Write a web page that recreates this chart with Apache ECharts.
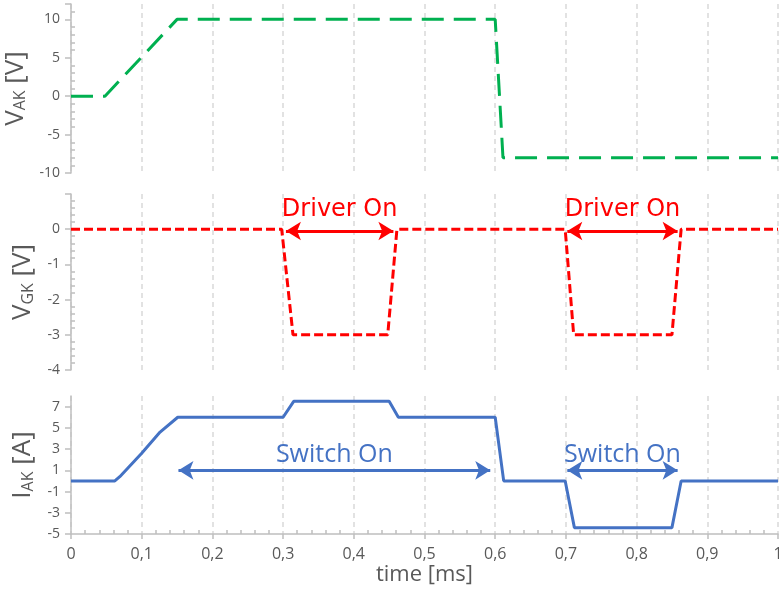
<!DOCTYPE html>
<html>
<head>
<meta charset="utf-8">
<script src="https://cdn.jsdelivr.net/npm/echarts@6/dist/echarts.min.js"></script>
<style>
  html, body { margin: 0; padding: 0; background: #fff; }
  #chart { width: 779px; height: 590px; }
</style>
</head>
<body>
<div id="chart"></div>
<script>
// Time axis in ms
const timeTicks = [0, 0.1, 0.2, 0.3, 0.4, 0.5, 0.6, 0.7, 0.8, 0.9, 1];

// Anode-cathode voltage V_AK [V]
const vakTime = [0, 0.048, 0.15, 0.6, 0.611, 1];
const vakVolt = [0, 0, 10, 10, -8, -8];

// Gate-cathode voltage V_GK [V]
const vgkTime = [0, 0.298, 0.314, 0.448, 0.461, 0.699, 0.711, 0.85, 0.863, 1];
const vgkVolt = [0, 0, -3, -3, 0, 0, -3, -3, 0, 0];

// Anode current I_AK [A]
const iakTime = [0, 0.062, 0.069, 0.1, 0.126, 0.151, 0.3, 0.315, 0.45, 0.463, 0.6, 0.612, 0.699, 0.712, 0.85, 0.863, 1];
const iakAmp  = [0, 0, 0.4, 2.6, 4.6, 6, 6, 7.5, 7.5, 6, 6, 0, 0, -4.4, -4.4, 0, 0];

// Annotated intervals: [start, end] in ms and arrow level
const driverOnSpans = [[0.304, 0.456], [0.702, 0.858]];
const driverOnLevel = -0.05;
const switchOnSpans = [[0.152, 0.593], [0.702, 0.858]];
const switchOnLevel = 1;

const pairs = (xs, ys) => xs.map((x, i) => [x, ys[i]]);
const fmt = v => String(v).replace('.', ',');

const GRAY = '#595959';
const AXIS = '#bfbfbf';
const FONT = '"Open Sans", sans-serif';

function xAxisFor(gridIndex, showLabels) {
  return {
    type: 'value', gridIndex, min: timeTicks[0], max: timeTicks[timeTicks.length - 1], interval: 0.1,
    axisLine: { show: showLabels, onZero: false, lineStyle: { color: AXIS, width: 1.5 } },
    axisTick: { show: showLabels, length: 5, lineStyle: { color: AXIS, width: 1.5 } },
    minorTick: { show: showLabels, splitNumber: 5, length: -4, lineStyle: { color: AXIS, width: 1.5 } },
    axisLabel: { show: showLabels, color: GRAY, fontFamily: FONT, fontSize: 16, margin: 12, formatter: fmt },
    splitLine: { show: true, lineStyle: { color: '#d9d9d9', type: [5, 4], width: 1.5 } },
    name: showLabels ? 'time [ms]' : '',
    nameLocation: 'middle', nameGap: 30,
    nameTextStyle: { color: GRAY, fontFamily: FONT, fontSize: 22 }
  };
}

function yAxisFor(gridIndex, min, max, interval, minorSplit, sub, unit) {
  return {
    type: 'value', gridIndex, min, max, interval,
    axisLine: { show: true, onZero: false, lineStyle: { color: AXIS, width: 1.5 } },
    axisTick: { show: true, length: 6, lineStyle: { color: AXIS, width: 1.5 } },
    minorTick: { show: minorSplit > 0, splitNumber: minorSplit || 5, length: -4, lineStyle: { color: AXIS, width: 1.5 } },
    axisLabel: { color: GRAY, fontFamily: FONT, fontSize: 14, margin: 11, showMaxLabel: false, formatter: fmt },
    splitLine: { show: false },
    name: '{a|' + sub[0] + '}{b|' + sub[1] + '}{a| [' + unit + ']}',
    nameLocation: 'middle', nameRotate: 90, nameGap: 35,
    nameTextStyle: {
      rich: {
        a: { color: GRAY, fontFamily: FONT, fontSize: 26 },
        b: { color: GRAY, fontFamily: FONT, fontSize: 16, verticalAlign: 'bottom' }
      }
    }
  };
}

function arrowMarks(spans, level, color, text, fontFamily, fontSize, dist) {
  return {
    silent: true,
    symbol: ['arrow', 'arrow'],
    symbolSize: [14, 15],
    lineStyle: { color, type: 'solid', width: 3 },
    label: {
      show: true, position: 'insideMiddleTop', distance: dist,
      formatter: text, color, fontFamily, fontSize
    },
    emphasis: { disabled: true },
    data: spans.map(s => [{ coord: [s[0], level] }, { coord: [s[1], level] }])
  };
}

const gridBox = { left: 71, right: 1, outerBoundsMode: 'none', containLabel: false };

const chart = echarts.init(document.getElementById('chart'));
chart.setOption({
  animation: false,
  backgroundColor: '#ffffff',
  grid: [
    Object.assign({ top: 4, height: 169 }, gridBox),
    Object.assign({ top: 194, height: 176 }, gridBox),
    Object.assign({ top: 396, height: 138 }, gridBox)
  ],
  xAxis: [xAxisFor(0, false), xAxisFor(1, false), xAxisFor(2, true)],
  yAxis: [
    yAxisFor(0, -10, 12, 5, 5, ['V', 'AK'], 'V'),
    yAxisFor(1, -4, 1, 1, 5, ['V', 'GK'], 'V'),
    yAxisFor(2, -5, 8, 2, 0, ['I', 'AK'], 'A')
  ],
  series: [
    {
      type: 'line', xAxisIndex: 0, yAxisIndex: 0, data: pairs(vakTime, vakVolt),
      showSymbol: false, lineStyle: { color: '#00b050', width: 3, type: [22, 10] }
    },
    {
      type: 'line', xAxisIndex: 1, yAxisIndex: 1, data: pairs(vgkTime, vgkVolt),
      showSymbol: false, lineStyle: { color: '#ff0000', width: 3, type: [9, 4] },
      markLine: arrowMarks(driverOnSpans, driverOnLevel, '#ff0000', 'Driver On', '"DejaVu Sans", sans-serif', 24, 9)
    },
    {
      type: 'line', xAxisIndex: 2, yAxisIndex: 2, data: pairs(iakTime, iakAmp),
      showSymbol: false, lineStyle: { color: '#4472c4', width: 3 },
      markLine: arrowMarks(switchOnSpans, switchOnLevel, '#4472c4', 'Switch On', FONT, 25, 3)
    }
  ]
});
</script>
</body>
</html>
